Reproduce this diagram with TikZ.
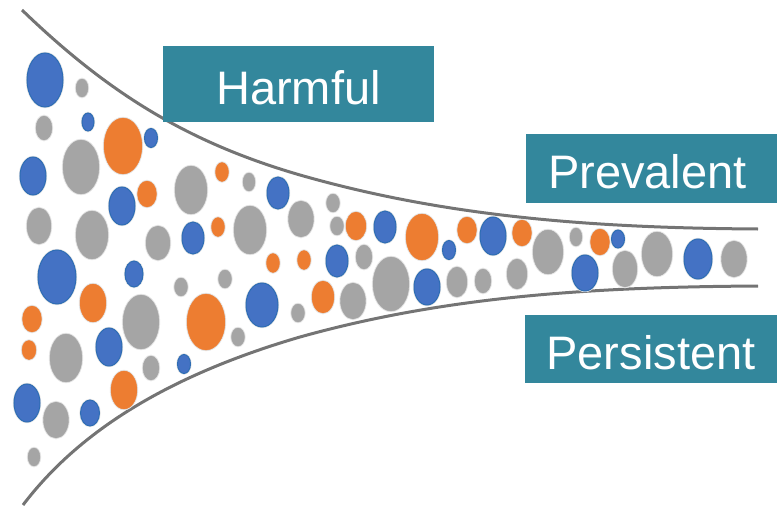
\documentclass[tikz,border=0pt]{standalone}
\usepackage{fontspec}
\setmainfont{Liberation Sans}
\usetikzlibrary{positioning}
\definecolor{dotblue}{HTML}{4472C4}
\definecolor{dotblueline}{HTML}{2E6DB4}
\definecolor{dotorange}{HTML}{ED7D31}
\definecolor{dotgray}{HTML}{A5A5A5}
\definecolor{tagteal}{HTML}{33879C}
\definecolor{wallgray}{HTML}{747474}

\begin{document}
\begin{tikzpicture}[
  x=1pt, y=-1pt,
  halo/.style={preaction={draw=black!10, line width=2.4pt}},
  bl/.style={halo, fill=dotblue, draw=dotblueline, line width=1pt},
  or/.style={halo, fill=dotorange, draw=dotorange},
  gr/.style={halo, fill=dotgray, draw=dotgray},
  wall/.style={draw=wallgray, line width=3pt},
  tag/.style={fill=tagteal, text=white, inner sep=0pt, text height=40pt,
    text depth=0pt, font=\fontsize{47}{56}\selectfont}
]
\useasboundingbox (0,0) rectangle (777,506);

% funnel walls
\coordinate (topin) at (22,10);
\coordinate (topmid) at (300,175);
\coordinate (topout) at (758,229);
\coordinate (botin) at (23,505);
\coordinate (botmid) at (300,337);
\coordinate (botout) at (758,286);
\draw[wall] (topin) .. controls (110,95) and (190,143) .. (topmid)
  .. controls (450,218) and (600,228) .. (topout);
\draw[wall] (botin) .. controls (80,430) and (170,375) .. (botmid)
  .. controls (450,295) and (600,287) .. (botout);

% particles: x/y/rx/ry/style
\foreach \x/\y/\a/\b/\c in {
  82/88/6/9/gr, 44/128/8/12/gr, 81/167/18/27/gr, 191/190/16/24/gr,
  249/182/6/9/gr, 39/226/12/18/gr, 92/235/16/24/gr, 158/243/12/17/gr,
  250/230/16/24/gr, 181/287/6.5/9/gr, 225/279/6.5/9/gr, 141/322/18/27/gr,
  66/358/16/24/gr, 238/337/6.5/9/gr, 151/368/8/12/gr, 56/420/12.5/18/gr,
  34/457/6/9/gr, 301/219/12.5/18/gr, 333/203/6.5/9/gr, 337/226/6.5/9/gr,
  364/257/8/12/gr, 298/313/6.5/9/gr, 353/301/12.5/18/gr, 391/284/18/27/gr,
  457/282/10/15/gr, 483/281/8/12/gr, 548/252/15/22/gr, 517/274/10/15/gr,
  576/237/6/9/gr, 625/269/12/18/gr, 657/254/15/22/gr, 734/259/12.5/18/gr,
  123/146/19/28/or, 147/194/9.5/13/or, 222/172/6.5/9.5/or, 218/227/6.5/9.5/or,
  93/303/13/19/or, 206/322/19/28/or, 32/319/9.5/13/or, 29/350/7/9.5/or,
  124/390/13/19/or, 356/226/10/14/or, 422/237/16/23/or, 467/230/9.5/13/or,
  273/263/6.5/9.5/or, 304/260/6.5/9.5/or, 323/297/11/16/or, 522/233/9.5/13/or,
  600/242/9.5/13/or,
  45/80/18/27/bl, 88/122/6/9/bl, 151/138/6.5/9.5/bl, 33/176/13/19/bl,
  122/206/13/19/bl, 193/238/11/16/bl, 57/277/19/27/bl, 134/274/9/13/bl,
  262/305/16/22/bl, 109/347/13/19/bl, 184/364/6.5/9.5/bl, 27/403/13/19/bl,
  90/413/9.5/13/bl, 278/193/11/16/bl, 385/227/11/16/bl, 449/250/6.5/9.5/bl,
  493/236/13/19/bl, 337/261/11/16/bl, 427/287/13/18/bl, 618/239/6.5/9/bl,
  585/273/13/18/bl, 698/259/14/20/bl}
  \draw[\c] (\x,\y) ellipse[x radius=\a pt, y radius=\b pt];

% labels
\node[tag, minimum width=271pt, minimum height=76pt] (harmful) at (298.5,84) {Harmful};
\node[tag, minimum width=251pt, minimum height=69pt] (prevalent) at (651.5,168.5) {Prevalent\hspace*{8pt}};
\node[tag, minimum width=252pt, minimum height=68pt] (persistent) at (651,349) {Persistent};
\end{tikzpicture}
\end{document}
